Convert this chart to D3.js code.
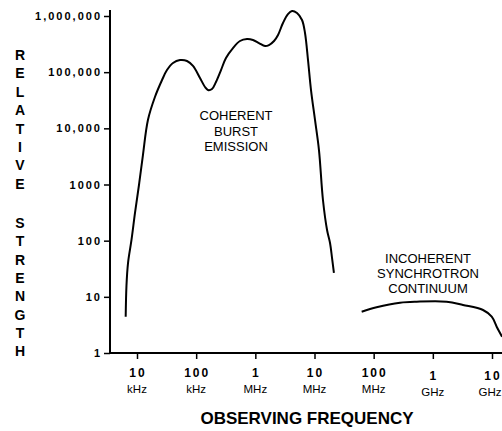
<!DOCTYPE html>
<html>
<head>
<meta charset="utf-8">
<script src="https://cdn.jsdelivr.net/npm/d3@7"></script>
<style>
  html, body { margin: 0; padding: 0; background: #fff; }
  svg { display: block; }
  text { font-family: "Liberation Sans", Arial, Helvetica, sans-serif; fill: #000; }
</style>
</head>
<body>
<svg id="chart" width="502" height="431"></svg>
<script>
// ---- data ----
const xTickValues = [1e4, 1e5, 1e6, 1e7, 1e8, 1e9, 1e10];
const xTickNumbers = ["10", "100", "1", "10", "100", "1", "10"];
const xTickUnits = ["kHz", "kHz", "MHz", "MHz", "MHz", "GHz", "GHz"];
const yTickValues = [1, 10, 100, 1000, 10000, 100000, 1000000];
const yTickLabels = ["1", "10", "100", "1000", "10,000", "100,000", "1,000,000"];

// coherent burst emission: frequency (Hz), relative strength
const burstFreq = [6.44e3, 6.64e3, 7.05e3, 8.07e3, 9.25e3, 1.08e4, 1.26e4, 1.53e4, 2.01e4, 2.65e4,
  3.21e4, 4.06e4, 5.33e4, 7.0e4, 8.84e4, 1.16e5, 1.41e5, 1.58e5, 1.85e5, 2.16e5,
  2.63e5, 3.19e5, 4.19e5, 5.5e5, 7.23e5, 9.13e5, 1.15e6, 1.46e6, 1.70e6, 2.07e6,
  2.42e6, 2.93e6, 3.56e6, 4.17e6, 5.06e6, 6.15e6, 6.91e6, 7.77e6, 8.73e6, 1.02e7,
  1.19e7, 1.39e7, 1.63e7, 1.83e7, 1.98e7, 2.13e7];
const burstStrength = [4.4, 16, 40, 103, 311, 980, 3350, 14100, 36100, 72500,
  109000, 146000, 164000, 158000, 129000, 78700, 54400, 48100, 50100, 66800,
  109000, 179000, 269000, 359000, 389000, 374000, 330000, 292000, 304000, 359000,
  459000, 750000, 1080000, 1230000, 1130000, 848000, 498000, 164000, 48100, 14100,
  4110, 530, 155, 91, 49, 26.6];

// incoherent synchrotron continuum
const synchFreq = [6.27e7, 1.12e8, 2.79e8, 5.33e8, 1.71e9, 3.24e9, 7.05e9, 9.89e9, 1.2e10, 1.48e10];
const synchStrength = [5.43, 6.51, 7.86, 8.19, 8.19, 7.16, 5.83, 4.43, 2.94, 1.95];

const burstLabel = ["COHERENT", "BURST", "EMISSION"];
const synchLabel = ["INCOHERENT", "SYNCHROTRON", "CONTINUUM"];
const yTitleTop = "RELATIVE";
const yTitleBottom = "STRENGTH";
const xTitle = "OBSERVING FREQUENCY";

// ---- drawing ----
const svg = d3.select("#chart");
const x = d3.scaleLog().domain([1e4, 1e10]).range([137, 492]);
const y = d3.scaleLog().domain([1, 1e6]).range([353, 16]);
const axisX0 = 110, axisY0 = 353;

// axis lines
svg.append("line").attr("x1", axisX0).attr("x2", axisX0).attr("y1", 10).attr("y2", axisY0 + 1)
  .attr("stroke", "#000").attr("stroke-width", 2);
svg.append("line").attr("x1", axisX0 - 1).attr("x2", 502).attr("y1", axisY0).attr("y2", axisY0)
  .attr("stroke", "#000").attr("stroke-width", 2);

// y axis ticks
const yAxis = d3.axisLeft(y).tickValues(yTickValues)
  .tickFormat((d, i) => yTickLabels[i]).tickSize(6).tickPadding(2).tickSizeOuter(0);
const gy = svg.append("g").attr("transform", `translate(${axisX0},0)`).call(yAxis);
gy.select(".domain").remove();
gy.selectAll(".tick line").attr("stroke", "#000").attr("stroke-width", 1.5);
gy.selectAll(".tick text")
  .style("font-family", '"Liberation Sans", Arial, sans-serif')
  .style("font-size", "11px").style("font-weight", "bold").style("letter-spacing", "2px")
  .attr("fill", "#000");

// x axis ticks
const xAxis = d3.axisBottom(x).tickValues(xTickValues).tickFormat("").tickSize(6).tickSizeOuter(0);
const gx = svg.append("g").attr("transform", `translate(0,${axisY0})`).call(xAxis);
gx.select(".domain").remove();
gx.selectAll(".tick line").attr("stroke", "#000").attr("stroke-width", 1.5);
gx.selectAll(".tick text").remove();

const isGHz = u => u === "GHz";
const xl = svg.append("g");
xTickValues.forEach((v, i) => {
  const off = isGHz(xTickUnits[i]) ? 3 : 0;
  const last = i === xTickValues.length - 1;
  xl.append("text").attr("x", x(v) + 1).attr("y", 377 + off)
    .attr("text-anchor", "middle")
    .style("font-size", "12px").style("font-weight", "bold").style("letter-spacing", "2px")
    .text(xTickNumbers[i]);
  xl.append("text").attr("x", last ? x(v) - 2 : x(v)).attr("y", 393 + off)
    .attr("text-anchor", "middle")
    .style("font-size", "11.5px")
    .text(xTickUnits[i]);
});

// titles
svg.append("text").attr("x", 307).attr("y", 424).attr("text-anchor", "middle")
  .style("font-size", "17px").style("font-weight", "bold").text(xTitle);

const yt = svg.append("g");
yTitleTop.split("").forEach((c, i) => {
  yt.append("text").attr("x", 20).attr("y", 60 + i * 18.4).attr("text-anchor", "middle")
    .style("font-size", "14px").style("font-weight", "bold").text(c);
});
yTitleBottom.split("").forEach((c, i) => {
  yt.append("text").attr("x", 20).attr("y", 228 + i * 18.3).attr("text-anchor", "middle")
    .style("font-size", "14px").style("font-weight", "bold").text(c);
});

// curves
const line = d3.line().x(d => x(d[0])).y(d => y(d[1])).curve(d3.curveCatmullRom.alpha(0.5));
svg.append("path").datum(burstFreq.map((f, i) => [f, burstStrength[i]]))
  .attr("d", line).attr("fill", "none").attr("stroke", "#000").attr("stroke-width", 2);
svg.append("path").datum(synchFreq.map((f, i) => [f, synchStrength[i]]))
  .attr("d", line).attr("fill", "none").attr("stroke", "#000").attr("stroke-width", 2);

// annotations
burstLabel.forEach((t, i) => {
  svg.append("text").attr("x", 236).attr("y", 120 + i * 15.5).attr("text-anchor", "middle")
    .style("font-size", "13px").text(t);
});
synchLabel.forEach((t, i) => {
  svg.append("text").attr("x", 428).attr("y", 263 + i * 15).attr("text-anchor", "middle")
    .style("font-size", "13px").text(t);
});
</script>
</body>
</html>
